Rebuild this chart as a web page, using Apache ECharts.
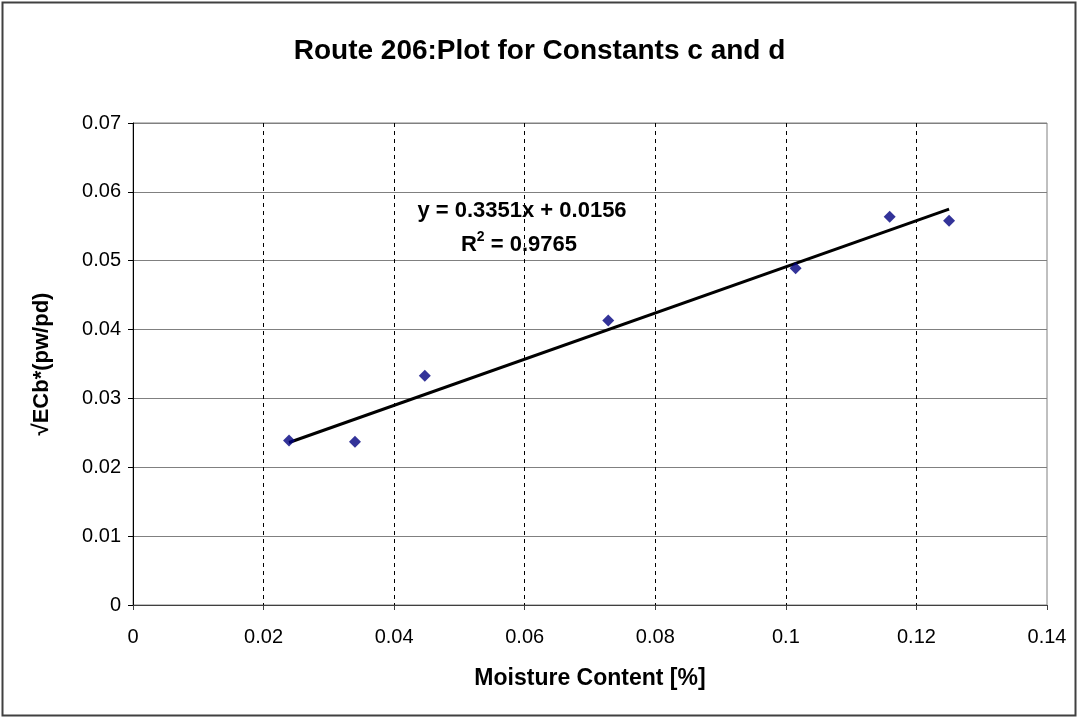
<!DOCTYPE html>
<html>
<head>
<meta charset="utf-8">
<script src="https://cdn.jsdelivr.net/npm/echarts@6/dist/echarts.min.js"></script>
<style>
html,body{margin:0;padding:0;background:#fff;}
#chart{width:1079px;height:719px;}
</style>
</head>
<body>
<div id="chart"></div>
<script>
// Data
const moisture = [0.0239, 0.0340, 0.0447, 0.0728, 0.1015, 0.1159, 0.1250];
const ecbValues = [0.0239, 0.0237, 0.0333, 0.0413, 0.0489, 0.0564, 0.0558];
const trendX = [0.0239, 0.1250];
const trendY = [0.0236, 0.0575];
const xTicks = [0, 0.02, 0.04, 0.06, 0.08, 0.1, 0.12, 0.14];
const yTicks = [0, 0.01, 0.02, 0.03, 0.04, 0.05, 0.06, 0.07];
const titleText = 'Route 206:Plot for Constants c and d';
const xName = 'Moisture Content [%]';
const yName = '\u221AECb*(pw/pd)';
const eqLine1 = 'y = 0.3351x + 0.0156';
const eqLine2Parts = ['R', '2', ' = 0.9765'];

const font = 'Liberation Sans, Arial, sans-serif';
const chart = echarts.init(document.getElementById('chart'), null, {renderer: 'canvas'});
const option = {
  backgroundColor: '#fff',
  animation: false,
  title: {
    text: titleText, left: 'center', top: 32,
    textStyle: {fontFamily: font, fontSize: 28, fontWeight: 'bold', color: '#000'}
  },
  grid: {left: 133, right: 32, top: 123, bottom: 114, show: true, borderColor: '#808080', borderWidth: 1},
  xAxis: {
    type: 'value', min: 0, max: 0.14, interval: 0.02,
    name: xName, nameLocation: 'middle', nameGap: 62,
    nameTextStyle: {fontFamily: font, fontSize: 23, fontWeight: 'bold', color: '#000'},
    axisLine: {show: true, onZero: false, lineStyle: {color: '#404040', width: 1}},
    axisTick: {show: true, inside: false, length: 5, lineStyle: {color: '#404040'}},
    axisLabel: {fontFamily: font, fontSize: 20, color: '#000', margin: 22,
      formatter: v => { const t = xTicks.find(k => Math.abs(k - v) < 1e-9); return t === undefined ? '' : String(t); }},
    splitLine: {show: true, showMaxLine: false, showMinLine: false, lineStyle: {color: '#000', type: [4, 4], width: 1}}
  },
  yAxis: {
    type: 'value', min: 0, max: 0.07, interval: 0.01,
    name: yName, nameLocation: 'middle', nameGap: 80,
    nameTextStyle: {fontFamily: font, fontSize: 22, fontWeight: 'bold', color: '#000'},
    axisLine: {show: true, lineStyle: {color: '#000', width: 1}},
    axisTick: {show: true, inside: false, length: 5, lineStyle: {color: '#000'}},
    axisLabel: {fontFamily: font, fontSize: 20, color: '#000', margin: 12,
      formatter: v => { const t = yTicks.find(k => Math.abs(k - v) < 1e-9); return t === undefined ? '' : String(t); }},
    splitLine: {show: true, lineStyle: {color: '#808080', type: 'solid', width: 1}}
  },
  series: [
    {
      type: 'line', data: trendX.map((x, i) => [x, trendY[i]]),
      showSymbol: false, symbol: 'none',
      lineStyle: {color: '#000', width: 3}, z: 2, silent: true
    },
    {
      type: 'scatter', data: moisture.map((x, i) => [x, ecbValues[i]]),
      symbol: 'diamond', symbolSize: 12,
      itemStyle: {color: '#000080'}, z: 3
    }
  ],
  graphic: [
    {type: 'rect', shape: {x: 2.5, y: 2.5, width: 1073, height: 713},
     style: {fill: 'none', stroke: '#404040', lineWidth: 2}, silent: true, z: 100},
    {type: 'text', x: 522, y: 211, z: 50,
     style: {text: eqLine1, fontFamily: font, fontSize: 22, fontWeight: 'bold', fill: '#000', align: 'center', verticalAlign: 'middle'}},
    {type: 'text', x: 519, y: 243, z: 50,
     style: {
       text: '{a|' + eqLine2Parts[0] + '}{s|' + eqLine2Parts[1] + '}{a|' + eqLine2Parts[2] + '}',
       align: 'center', verticalAlign: 'middle',
       rich: {
         a: {fontFamily: font, fontSize: 22, fontWeight: 'bold', fill: '#000', color: '#000', lineHeight: 26, verticalAlign: 'bottom'},
         s: {fontFamily: font, fontSize: 14, fontWeight: 'bold', fill: '#000', color: '#000', lineHeight: 26, verticalAlign: 'top', padding: [0, 0, 10, 0]}
       }
     }}
  ]
};
chart.setOption(option);
</script>
</body>
</html>
